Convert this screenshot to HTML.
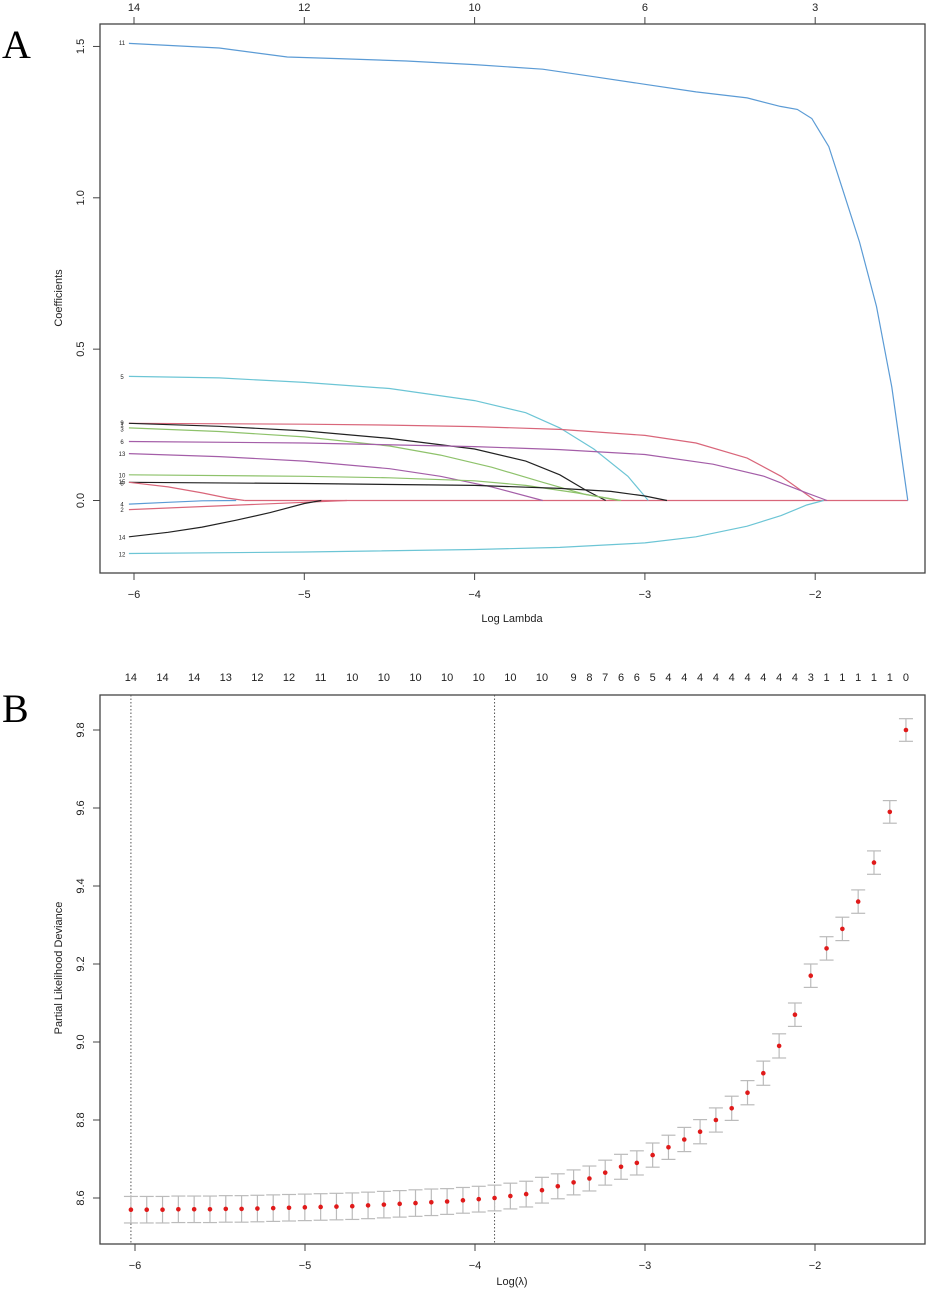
<!DOCTYPE html>
<html><head><meta charset="utf-8"><style>
html,body{margin:0;padding:0;background:#fff;}
svg{display:block;font-family:"Liberation Sans",sans-serif;}
</style></head><body>
<svg id="svg" width="941" height="1294" viewBox="0 0 941 1294">
<text x="2" y="58" font-family="Liberation Serif,serif" font-size="40">A</text>
<text x="2" y="722" font-family="Liberation Serif,serif" font-size="40">B</text>
<g id="pa"></g>
<g id="pb"></g>
</svg>
<script>
// ---------- Panel A data ----------
const aTicksX = [-6,-5,-4,-3,-2];
const aTopLabels = ["14","12","10","6","3"];
const aTicksY = [0.0,0.5,1.0,1.5];
const aTickYLabels = ["0.0","0.5","1.0","1.5"];
const pathNames = ["11","5","9","1","3","6","13","10","15","8","4","2","14","12"];
const pathColors = ["#5b9bd5","#6cc5d5","#d9667a","#222222","#8ec26b","#a45ea8","#a45ea8","#8ec26b","#222222","#d9667a","#5b9bd5","#d9667a","#222222","#6cc5d5"];
const p11x=[-6.03,-5.5,-5.1,-4.8,-4.4,-4.0,-3.6,-3.3,-3.0,-2.7,-2.4,-2.205,-2.105,-2.02,-1.92,-1.84,-1.74,-1.64,-1.55,-1.456];
const p11y=[1.51,1.495,1.465,1.46,1.452,1.44,1.425,1.4,1.375,1.35,1.33,1.302,1.292,1.262,1.169,1.03,0.854,0.641,0.375,0];
const p5x=[-6.03,-5.5,-5.0,-4.5,-4.0,-3.7,-3.5,-3.3,-3.1,-2.98];
const p5y=[0.41,0.405,0.39,0.37,0.33,0.29,0.24,0.17,0.08,0];
const p9x=[-6.03,-5.0,-4.5,-4.0,-3.5,-3.0,-2.7,-2.4,-2.2,-2.0];
const p9y=[0.255,0.252,0.249,0.244,0.235,0.215,0.19,0.14,0.08,0];
const p1x=[-6.03,-5.5,-5.0,-4.5,-4.0,-3.7,-3.5,-3.35,-3.23];
const p1y=[0.255,0.245,0.23,0.205,0.17,0.13,0.085,0.035,0];
const p3x=[-6.03,-5.5,-5.0,-4.5,-4.2,-3.9,-3.6,-3.35,-3.14];
const p3y=[0.24,0.228,0.21,0.18,0.15,0.11,0.06,0.02,0];
const p6x=[-6.03,-5.0,-4.0,-3.5,-3.0,-2.6,-2.3,-2.05,-1.93];
const p6y=[0.195,0.19,0.178,0.168,0.152,0.12,0.08,0.025,0];
const p13x=[-6.03,-5.5,-5.0,-4.5,-4.2,-3.9,-3.6];
const p13y=[0.155,0.145,0.13,0.105,0.08,0.045,0];
const p10x=[-6.03,-5.0,-4.5,-4.0,-3.7,-3.4,-3.15];
const p10y=[0.085,0.08,0.075,0.065,0.05,0.025,0];
const p15x=[-6.03,-5.0,-4.0,-3.5,-3.2,-3.0,-2.87];
const p15y=[0.06,0.056,0.05,0.04,0.03,0.015,0];
const p8x=[-6.03,-5.8,-5.6,-5.45,-5.35];
const p8y=[0.06,0.045,0.025,0.008,0];
const p4x=[-6.03,-5.8,-5.6,-5.4];
const p4y=[-0.012,-0.006,-0.001,0];
const p2x=[-6.03,-5.5,-5.0,-4.75];
const p2y=[-0.03,-0.018,-0.006,0];
const p14x=[-6.03,-5.8,-5.6,-5.4,-5.2,-5.0,-4.9];
const p14y=[-0.12,-0.105,-0.088,-0.065,-0.04,-0.01,0];
const p12x=[-6.03,-5.0,-4.0,-3.5,-3.0,-2.7,-2.4,-2.2,-2.05,-1.95];
const p12y=[-0.175,-0.17,-0.162,-0.155,-0.14,-0.12,-0.085,-0.05,-0.015,0];
const pathXs=[p11x,p5x,p9x,p1x,p3x,p6x,p13x,p10x,p15x,p8x,p4x,p2x,p14x,p12x];
const pathYs=[p11y,p5y,p9y,p1y,p3y,p6y,p13y,p10y,p15y,p8y,p4y,p2y,p14y,p12y];
const pathLabelY=[1.513,0.41,0.258,0.252,0.236,0.195,0.155,0.085,0.062,0.058,-0.012,-0.029,-0.12,-0.176];

// ---------- Panel B data ----------
const bLogLambda=[-6.024,-5.931,-5.838,-5.745,-5.652,-5.559,-5.466,-5.373,-5.280,-5.187,-5.094,-5.001,-4.908,-4.815,-4.722,-4.629,-4.536,-4.443,-4.350,-4.257,-4.164,-4.071,-3.978,-3.885,-3.792,-3.699,-3.606,-3.513,-3.420,-3.327,-3.234,-3.141,-3.048,-2.955,-2.862,-2.769,-2.676,-2.583,-2.490,-2.397,-2.304,-2.211,-2.118,-2.025,-1.932,-1.839,-1.746,-1.653,-1.560,-1.465];
const bDeviance=[8.570,8.570,8.570,8.571,8.571,8.571,8.572,8.572,8.573,8.574,8.575,8.576,8.577,8.578,8.579,8.581,8.583,8.585,8.587,8.589,8.591,8.594,8.597,8.600,8.605,8.61,8.62,8.63,8.64,8.65,8.665,8.68,8.69,8.71,8.73,8.75,8.77,8.80,8.83,8.87,8.92,8.99,9.07,9.17,9.24,9.29,9.36,9.46,9.59,9.80];
const bSE=[0.034,0.034,0.034,0.034,0.034,0.034,0.034,0.034,0.034,0.034,0.034,0.034,0.034,0.034,0.034,0.034,0.034,0.034,0.034,0.034,0.033,0.033,0.033,0.033,0.033,0.033,0.033,0.032,0.032,0.032,0.032,0.032,0.031,0.031,0.031,0.031,0.031,0.031,0.031,0.031,0.031,0.031,0.03,0.03,0.03,0.03,0.03,0.03,0.029,0.029];
const bNzero=["14","14","14","14","14","14","13","12","12","12","12","11","11","10","10","10","10","10","10","10","10","10","10","10","10","10","10","10","9","8","7","6","6","5","4","4","4","4","4","4","4","4","4","3","1","1","1","1","1","0"];
const bShowLabel=[1,0,1,0,1,0,1,0,1,0,1,0,1,0,1,0,1,0,1,0,1,0,1,0,1,0,1,0,1,1,1,1,1,1,1,1,1,1,1,1,1,1,1,1,1,1,1,1,1,1];
const bTicksX=[-6,-5,-4,-3,-2];
const bTicksY=[8.6,8.8,9.0,9.2,9.4,9.6,9.8];
const bTickYLabels=["8.6","8.8","9.0","9.2","9.4","9.6","9.8"];
const bVLines=[-6.024,-3.885];

const NS="http://www.w3.org/2000/svg";
function mk(parent,tag,attrs,txt){const e=document.createElementNS(NS,tag);for(const k in attrs)e.setAttribute(k,attrs[k]);if(txt!==undefined)e.textContent=txt;parent.appendChild(e);return e;}

// ---- Panel A ----
const pa=document.getElementById('pa');
const xA=v=>134+(v+6)*170.3;
const yA=v=>500.5-v*302.7;
const AL=100,AR=925,AT=24,AB=573;
let e=mk(pa,'rect',{x:AL,y:AT,width:AR-AL,height:AB-AT,fill:'none',stroke:'#444','stroke-width':1.3});


aTicksX.forEach((t,i)=>{
  const x=xA(t);
  mk(pa,'line',{x1:x,x2:x,y1:AB,y2:AB+7,stroke:'#444'});
  e=mk(pa,'text',{x:x,y:AB+25,'font-size':11,'text-anchor':'middle',fill:'#222'},'\u2212'+Math.abs(t));
  
  
  mk(pa,'line',{x1:x,x2:x,y1:AT,y2:AT-7,stroke:'#444'});
  e=mk(pa,'text',{x:x,y:AT-13,'font-size':11,'text-anchor':'middle',fill:'#222'},aTopLabels[i]);
  
  
});
aTicksY.forEach((t,i)=>{
  const y=yA(t);
  mk(pa,'line',{x1:AL,x2:AL-7,y1:y,y2:y,stroke:'#444'});
  e=mk(pa,'text',{x:0,y:0,'font-size':11,'text-anchor':'middle',fill:'#222',transform:`translate(84,${y}) rotate(-90)`},aTickYLabels[i]);
  
  
});
e=mk(pa,'text',{x:0,y:0,'font-size':11,'text-anchor':'middle',fill:'#222',transform:'translate(62,298) rotate(-90)'},'Coefficients');


e=mk(pa,'text',{x:512,y:622,'font-size':11,'text-anchor':'middle',fill:'#222'},'Log Lambda');


// zero baseline (dropped coefficients)
e=mk(pa,'line',{x1:xA(-5.35),x2:xA(-1.456),y1:yA(0),y2:yA(0),stroke:'#d9667a','stroke-width':1.2});


pathXs.forEach((xs,i)=>{
  const pts=xs.map((x,j)=>xA(x).toFixed(1)+','+yA(pathYs[i][j]).toFixed(1)).join(' ');
  const l=mk(pa,'polyline',{points:pts,fill:'none',stroke:pathColors[i],'stroke-width':1.2});
  
  
  const t=mk(pa,'text',{x:122,y:yA(pathLabelY[i])+2.5,'font-size':6,'text-anchor':'middle',fill:'#222'},pathNames[i]);
  
  
});

// ---- Panel B ----
const pb=document.getElementById('pb');
const xB=v=>135+(v+6)*170;
const yB=v=>1198-(v-8.6)*390;
const BL=100,BR=925,BT=695,BB=1244;
e=mk(pb,'rect',{x:BL,y:BT,width:BR-BL,height:BB-BT,fill:'none',stroke:'#444','stroke-width':1.3});


bTicksX.forEach(t=>{
  const x=xB(t);
  mk(pb,'line',{x1:x,x2:x,y1:BB,y2:BB+7,stroke:'#444'});
  e=mk(pb,'text',{x:x,y:BB+25,'font-size':11,'text-anchor':'middle',fill:'#222'},'\u2212'+Math.abs(t));
  
  
});
bTicksY.forEach((t,i)=>{
  const y=yB(t);
  mk(pb,'line',{x1:BL,x2:BL-7,y1:y,y2:y,stroke:'#444'});
  e=mk(pb,'text',{x:0,y:0,'font-size':11,'text-anchor':'middle',fill:'#222',transform:`translate(84,${y}) rotate(-90)`},bTickYLabels[i]);
  
  
});
e=mk(pb,'text',{x:0,y:0,'font-size':11,'text-anchor':'middle',fill:'#222',transform:'translate(62,968) rotate(-90)'},'Partial Likelihood Deviance');


e=mk(pb,'text',{x:512,y:1285,'font-size':11,'text-anchor':'middle',fill:'#222'},'Log(\u03bb)');


bVLines.forEach(v=>{
  const l=mk(pb,'line',{x1:xB(v),x2:xB(v),y1:BT,y2:BB,stroke:'#555','stroke-dasharray':'1.5,2','stroke-width':1});
  
  
});
bLogLambda.forEach((v,i)=>{
  const x=xB(v),d=bDeviance[i],s=bSE[i];
  const y1=yB(d+s),y2=yB(d-s);
  const g=mk(pb,'g',{});
  
  
  mk(g,'line',{x1:x,x2:x,y1:y1,y2:y2,stroke:'#bbb','stroke-width':1.2});
  mk(g,'line',{x1:x-7,x2:x+7,y1:y1,y2:y1,stroke:'#bbb','stroke-width':1.2});
  mk(g,'line',{x1:x-7,x2:x+7,y1:y2,y2:y2,stroke:'#bbb','stroke-width':1.2});
  mk(g,'circle',{cx:x,cy:yB(d),r:2.3,fill:'#e01a1a'});
  if(bShowLabel[i]){
    const t=mk(pb,'text',{x:x,y:681,'font-size':11,'text-anchor':'middle',fill:'#222'},bNzero[i]);
    
    
  }
});
</script>
</body></html>
